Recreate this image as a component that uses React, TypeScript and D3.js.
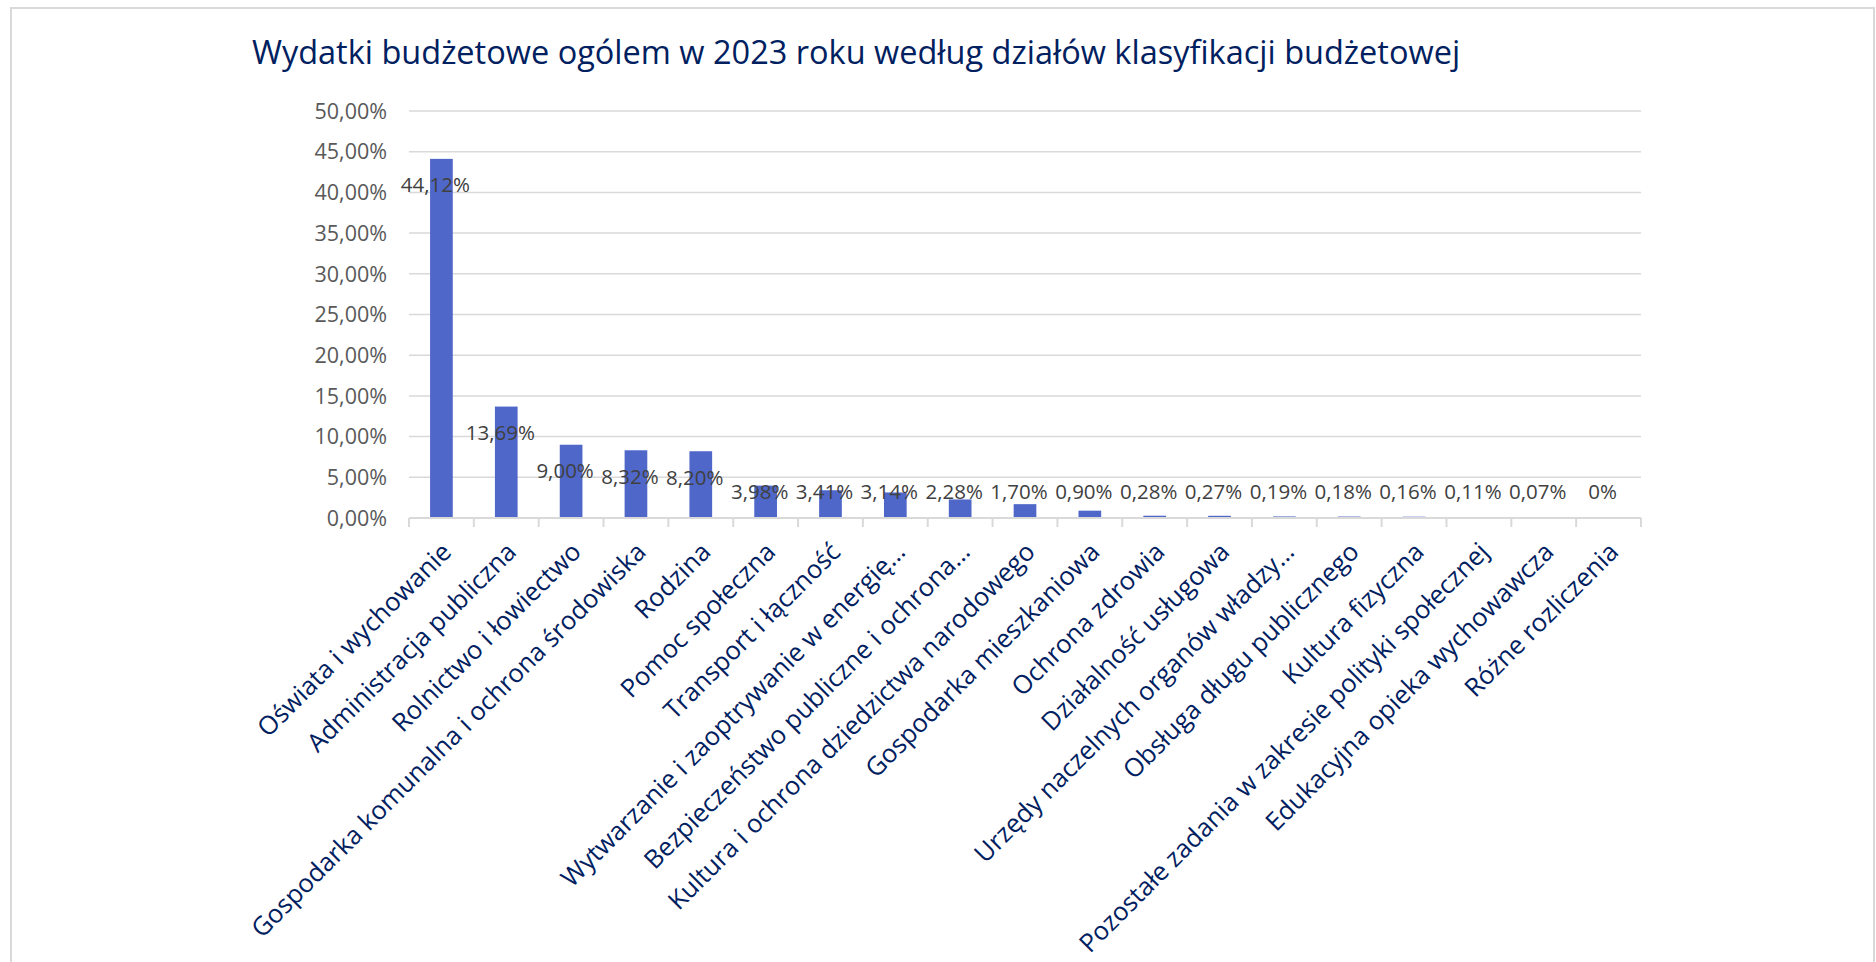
import { useEffect, useRef } from "react";
import * as d3 from "d3";

const categories = [
  "Oświata i wychowanie",
  "Administracja publiczna",
  "Rolnictwo i łowiectwo",
  "Gospodarka komunalna i ochrona środowiska",
  "Rodzina",
  "Pomoc społeczna",
  "Transport i łączność",
  "Wytwarzanie i zaoptrywanie w energię…",
  "Bezpieczeństwo publiczne i ochrona…",
  "Kultura i ochrona dziedzictwa narodowego",
  "Gospodarka mieszkaniowa",
  "Ochrona zdrowia",
  "Działalność usługowa",
  "Urzędy naczelnych organów władzy…",
  "Obsługa długu publicznego",
  "Kultura fizyczna",
  "Pozostałe zadania w zakresie polityki społecznej",
  "Edukacyjna opieka wychowawcza",
  "Różne rozliczenia",
];

const shares = [
  44.12, 13.69, 9.0, 8.32, 8.2, 3.98, 3.41, 3.14, 2.28, 1.7, 0.9, 0.28, 0.27,
  0.19, 0.18, 0.16, 0.11, 0.07, 0,
];

const valueLabels = [
  "44,12%", "13,69%", "9,00%", "8,32%", "8,20%", "3,98%", "3,41%", "3,14%",
  "2,28%", "1,70%", "0,90%", "0,28%", "0,27%", "0,19%", "0,18%", "0,16%",
  "0,11%", "0,07%", "0%",
];

const yTicks = [0, 5, 10, 15, 20, 25, 30, 35, 40, 45, 50];

const title = "Wydatki budżetowe ogólem w 2023 roku według działów klasyfikacji budżetowej";

export default function App() {
  const svgRef = useRef<SVGSVGElement | null>(null);

  useEffect(() => {
    const svg = d3.select(svgRef.current);
    const width = 1876;
    const height = 962;
    const margin = { top: 111, right: 235, bottom: 444, left: 409 };
    const font = "'Open Sans', 'Noto Sans', sans-serif";

    svg.selectAll("*").remove();
    svg.attr("width", width).attr("height", height);

    svg.append("rect")
      .attr("x", 0).attr("y", 0)
      .attr("width", width).attr("height", height)
      .attr("fill", "white");

    // chart frame
    svg.append("path")
      .attr("d", `M11,${height} V8 H${width - 2} V${height}`)
      .attr("fill", "none")
      .attr("stroke", "#d9d9d9")
      .attr("stroke-width", 2);

    const x = d3.scaleBand<string>()
      .domain(categories)
      .range([margin.left, width - margin.right])
      .padding(0);

    const y = d3.scaleLinear()
      .domain([0, 50])
      .range([height - margin.bottom, margin.top]);

    // gridlines
    svg.append("g")
      .selectAll("line")
      .data(yTicks.filter((t) => t > 0))
      .enter()
      .append("line")
      .attr("x1", margin.left)
      .attr("x2", width - margin.right)
      .attr("y1", (d) => y(d))
      .attr("y2", (d) => y(d))
      .attr("stroke", "#d9d9d9")
      .attr("stroke-width", 1.5);

    // y axis labels
    svg.append("g")
      .selectAll("text")
      .data(yTicks)
      .enter()
      .append("text")
      .attr("x", margin.left - 22)
      .attr("y", (d) => y(d))
      .attr("dy", "0.36em")
      .attr("text-anchor", "end")
      .style("font-family", font)
      .style("font-size", "21.5px")
      .style("fill", "#595959")
      .text((d) => d3.format(".2f")(d).replace(".", ",") + "%");

    // bars
    const barW = x.bandwidth() * 0.35;
    svg.append("g")
      .selectAll("rect")
      .data(shares)
      .enter()
      .append("rect")
      .attr("x", (d, i) => (x(categories[i]) || 0) + (x.bandwidth() - barW) / 2)
      .attr("y", (d) => y(d))
      .attr("width", barW)
      .attr("height", (d) => y(0) - y(d))
      .attr("fill", "#4f67c8");

    // category axis
    const y0 = y(0);
    svg.append("line")
      .attr("x1", margin.left)
      .attr("x2", width - margin.right)
      .attr("y1", y0)
      .attr("y2", y0)
      .attr("stroke", "#d9d9d9")
      .attr("stroke-width", 2);

    const edges = categories.map((c) => x(c) || 0).concat([width - margin.right]);
    svg.append("g")
      .selectAll("line")
      .data(edges)
      .enter()
      .append("line")
      .attr("x1", (d) => d)
      .attr("x2", (d) => d)
      .attr("y1", y0)
      .attr("y2", y0 + 9)
      .attr("stroke", "#d9d9d9")
      .attr("stroke-width", 2);

    // data labels
    svg.append("g")
      .selectAll("text")
      .data(shares)
      .enter()
      .append("text")
      .attr("x", (d, i) => (x(categories[i]) || 0) + x.bandwidth() / 2 - 6)
      .attr("y", (d) => Math.min(y(d) + 26, y0 - 26))
      .attr("dy", "0.36em")
      .attr("text-anchor", "middle")
      .style("font-family", font)
      .style("font-size", "20.5px")
      .style("fill", "#404040")
      .text((d, i) => valueLabels[i]);

    // category labels
    svg.append("g")
      .selectAll("text")
      .data(categories)
      .enter()
      .append("text")
      .attr("transform", (d) => {
        const cx = (x(d) || 0) + x.bandwidth() / 2 + 5;
        return `translate(${cx},${y0 + 29}) rotate(-45)`;
      })
      .attr("text-anchor", "end")
      .attr("dy", "0.36em")
      .style("font-family", font)
      .style("font-size", "25.5px")
      .style("fill", "#002060")
      .text((d) => d);

    // title
    svg.append("text")
      .attr("x", 856)
      .attr("y", 64)
      .attr("text-anchor", "middle")
      .style("font-family", font)
      .style("font-size", "32.5px")
      .style("fill", "#002060")
      .text(title);
  }, []);

  return (
    <div style={{ position: "absolute", left: 0, top: 0 }}>
      <svg ref={svgRef} style={{ display: "block" }} />
    </div>
  );
}
